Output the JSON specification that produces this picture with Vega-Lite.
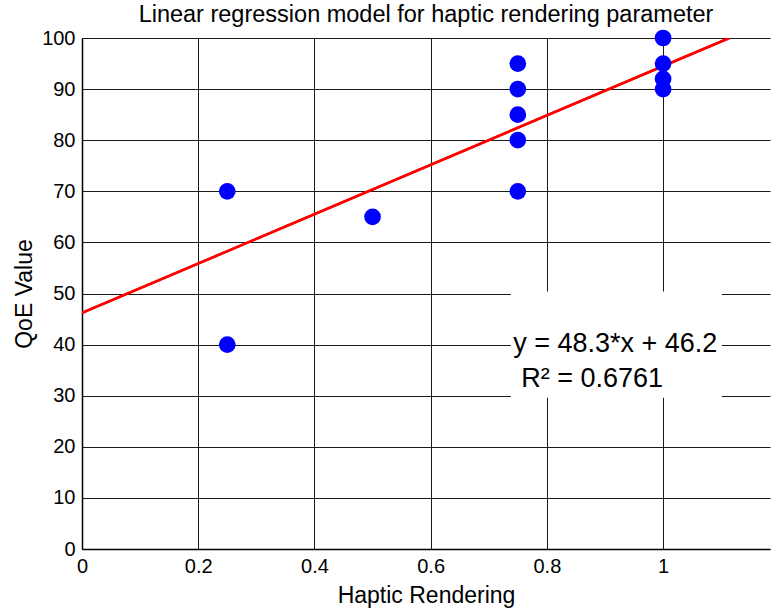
{
  "$schema": "https://vega.github.io/schema/vega-lite/v6.json",
  "autosize": {"type": "none"},
  "padding": {"left": 82, "top": 38, "right": 3, "bottom": 64},
  "width": 688,
  "height": 511,
  "background": "white",
  "title": {
    "text": "Linear regression model for haptic rendering parameter",
    "font": "Liberation Sans",
    "fontSize": 23.5,
    "fontWeight": "normal",
    "color": "black",
    "anchor": "middle",
    "offset": 2
  },
  "config": {
    "view": {"stroke": null},
    "axis": {
      "labelFont": "Liberation Sans",
      "titleFont": "Liberation Sans",
      "labelColor": "black",
      "titleColor": "black",
      "labelFontSize": 20,
      "titleFontSize": 23,
      "titleFontWeight": "normal",
      "labelFlush": false,
      "domainColor": "black",
      "domainWidth": 1.5,
      "gridColor": "#1a1a1a",
      "gridWidth": 1,
      "gridOpacity": 1,
      "ticks": false
    }
  },
  "datasets": {
    "scores": [
      {"haptic": 0.25, "qoe": 70},
      {"haptic": 0.25, "qoe": 40},
      {"haptic": 0.5, "qoe": 65},
      {"haptic": 0.75, "qoe": 95},
      {"haptic": 0.75, "qoe": 90},
      {"haptic": 0.75, "qoe": 85},
      {"haptic": 0.75, "qoe": 80},
      {"haptic": 0.75, "qoe": 70},
      {"haptic": 1, "qoe": 100},
      {"haptic": 1, "qoe": 95},
      {"haptic": 1, "qoe": 92},
      {"haptic": 1, "qoe": 90}
    ],
    "fit": [
      {"haptic": 0, "qoe": 46.2},
      {"haptic": 1.1139, "qoe": 100}
    ],
    "annotation": [
      {"line": "y = 48.3*x + 46.2", "row": 0},
      {"line": "R² = 0.6761", "row": 1}
    ]
  },
  "layer": [
    {
      "data": {"name": "fit"},
      "mark": {"type": "line", "color": "#ff0000", "strokeWidth": 2.5, "clip": true},
      "encoding": {
        "x": {
          "field": "haptic",
          "type": "quantitative",
          "scale": {"domain": [0, 1.184], "nice": false, "zero": false},
          "axis": {
            "values": [0, 0.2, 0.4, 0.6, 0.8, 1],
            "format": "~g",
            "title": "Haptic Rendering",
            "grid": true,
            "labelPadding": 7,
            "titlePadding": 8
          }
        },
        "y": {
          "field": "qoe",
          "type": "quantitative",
          "scale": {"domain": [0, 100], "nice": false},
          "axis": {
            "values": [0, 10, 20, 30, 40, 50, 60, 70, 80, 90, 100],
            "title": "QoE Value",
            "grid": true,
            "labelPadding": 7,
            "titlePadding": 5
          }
        }
      }
    },
    {
      "data": {"values": [{"box": "label"}]},
      "mark": {"type": "rect", "fill": "white", "stroke": null},
      "encoding": {
        "x": {"datum": 0.738, "type": "quantitative"},
        "x2": {"datum": 1.101},
        "y": {"datum": 29.6, "type": "quantitative"},
        "y2": {"datum": 50.4}
      }
    },
    {
      "data": {"name": "fit"},
      "mark": {"type": "line", "color": "#ff0000", "strokeWidth": 2.5, "clip": true},
      "encoding": {
        "x": {"field": "haptic", "type": "quantitative"},
        "y": {"field": "qoe", "type": "quantitative"}
      }
    },
    {
      "data": {"name": "scores"},
      "mark": {"type": "point", "filled": true, "shape": "circle", "color": "#0000ff", "opacity": 1, "size": 280},
      "encoding": {
        "x": {"field": "haptic", "type": "quantitative"},
        "y": {"field": "qoe", "type": "quantitative"}
      }
    },
    {
      "data": {"name": "annotation"},
      "mark": {"type": "text", "font": "Liberation Sans", "fontSize": 27, "color": "black", "align": "left", "baseline": "alphabetic"},
      "encoding": {
        "x": {"datum": 0.742, "type": "quantitative"},
        "y": {"datum": 38.5, "type": "quantitative"},
        "yOffset": {"field": "row", "type": "quantitative", "scale": {"domain": [0, 1], "range": [0, 35]}},
        "xOffset": {"field": "row", "type": "quantitative", "scale": {"domain": [0, 1], "range": [0, 8]}},
        "text": {"field": "line"}
      }
    }
  ]
}
